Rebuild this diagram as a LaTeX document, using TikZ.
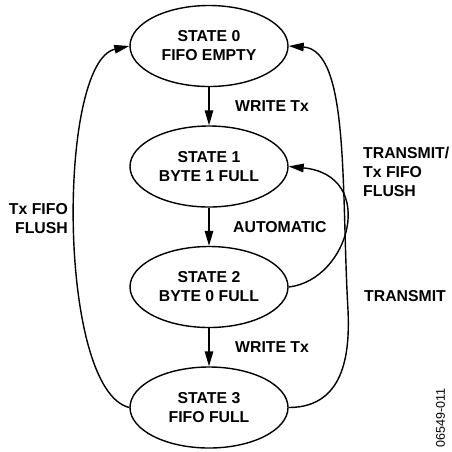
\documentclass[tikz,border=0pt]{standalone}
\usepackage{fontspec}
\setmainfont{Liberation Sans}
\usetikzlibrary{shapes.geometric,arrows.meta}
\newcommand\lblfont{\fontsize{15.8pt}{19pt}\selectfont\bfseries}
\newcommand\codefont{\fontsize{12.5pt}{14pt}\selectfont}
\begin{document}
\begin{tikzpicture}[x=1pt,y=-1pt,
  state/.style={draw, ellipse, line width=1.4pt, minimum width=158pt, minimum height=81pt,
                inner sep=0pt, align=center, font=\lblfont},
  lbl/.style={inner sep=0pt, font=\lblfont},
  conn/.style={line width=1.4pt, -{Triangle[length=15pt,width=8.5pt]}}]
\useasboundingbox (0,0) rectangle (452,451);

\node[state] (s0) at (209,46) {STATE 0\\FIFO EMPTY};
\node[state] (s1) at (209,166.5) {STATE 1\\BYTE 1 FULL};
\node[state] (s2) at (209,287) {STATE 2\\BYTE 0 FULL};
\node[state] (s3) at (209,407.5) {STATE 3\\FIFO FULL};

\draw[conn] (s0) -- (s1);
\draw[conn] (s1) -- (s2);
\draw[conn] (s2) -- (s3);

\draw[conn] (s3.west) .. controls (57,390) and (57,62) .. (s0.west);
\coordinate (rc) at (348,310);
\draw[conn] (s3.east) .. controls (348,407.5) and (349.5,346) .. (rc)
            .. controls (341,190) and (350,50) .. (s0.east);
\draw[conn] (s2.east) .. controls (350,280) and (378,175) .. (s1.east);

\node[lbl, anchor=west] (w1) at (235,106) {WRITE Tx};
\node[lbl, anchor=west] (au) at (233,227) {AUTOMATIC};
\node[lbl, anchor=west] (w2) at (235,347) {WRITE Tx};
\node[lbl, anchor=west, align=left] (tf) at (363,172) {TRANSMIT/\\Tx FIFO\\FLUSH};
\node[lbl, anchor=west] (tr) at (364,296) {TRANSMIT};
\node[lbl, anchor=east, align=right] (lf) at (68,218.5) {Tx FIFO\\FLUSH};
\node[font=\codefont, rotate=90, inner sep=0pt] (code) at (440.5,418) {06549-011};
\end{tikzpicture}
\end{document}
